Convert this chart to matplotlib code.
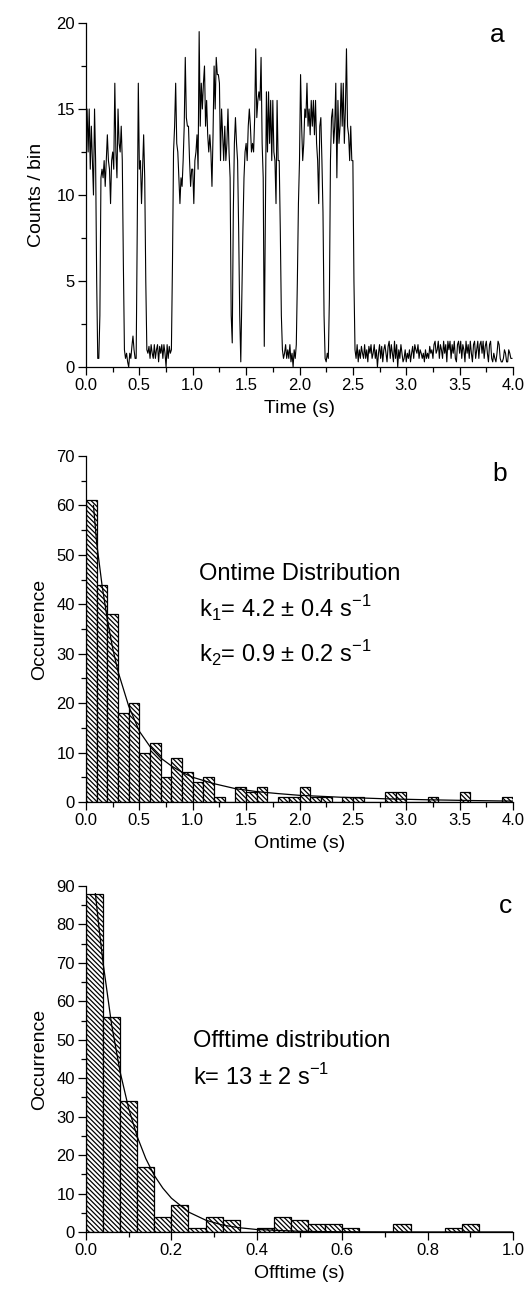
import numpy as np
import matplotlib
matplotlib.use('Agg')
import matplotlib.pyplot as plt
from matplotlib.ticker import MultipleLocator

plt.rcParams['font.family'] = ['Liberation Sans', 'DejaVu Sans']
plt.rcParams['mathtext.fontset'] = 'custom'
plt.rcParams['mathtext.rm'] = 'Liberation Sans'
plt.rcParams['hatch.linewidth'] = 0.9

## panel a: fluorescence trace, 10 ms bins
bin_width = 0.01
counts = [
    14.5, 15, 12.5, 15, 11.5, 14, 12, 10, 15, 12,
    5, 0.5, 0.5, 3, 11, 11.5, 11, 12, 10.5, 12,
    13.5, 12, 11.5, 9.5, 12, 12.5, 11.5, 16.5, 12.5, 11,
    15, 13, 12.5, 14, 12, 6, 1, 0.5, 0.8, 0.3,
    0, 0.8, 0.5, 1.2, 1.8, 1, 0.5, 0.5, 8, 16.5,
    11.5, 12, 9.5, 11.5, 13.5, 11, 5, 1, 0.8, 1.2,
    0.5, 1.3, 0.8, 0.5, 1.3, 0.5, 1, 1.3, 0.3, 1.2,
    0.8, 1.3, 0.5, 1.3, 0.8, 0, 1.3, 0.5, 1.2, 0.8,
    1, 6, 12.5, 14, 16.5, 13, 12.5, 11, 9.5, 11,
    10.5, 12, 14, 18, 14.5, 14, 14, 12, 10.5, 11.5,
    11.5, 9.5, 12, 12.5, 13.5, 11.5, 19.5, 14, 16.5, 15,
    16.5, 17.5, 14, 15.5, 13.5, 12.5, 13.5, 12.5, 10.5, 13.5,
    17.5, 15, 18, 17, 17, 16.5, 12, 15, 13.5, 12,
    14, 12, 13, 15, 12.5, 11, 3, 1.4, 9, 13,
    14.5, 13, 12, 8, 3, 0.3, 4, 8, 11, 12.5,
    13, 12, 14, 15, 14, 12.5, 13, 12.5, 14.5, 18.5,
    14.5, 15.5, 16, 15.5, 18, 13, 11, 1.2, 9, 16,
    12.5, 16, 13, 15.5, 12, 15.5, 12.5, 12, 9.5, 15.5,
    12, 12, 8, 3, 1, 0.5, 0.8, 1.3, 0.5, 1,
    0.5, 1.3, 0.3, 0.8, 0, 1, 0.5, 1.3, 5, 9.5,
    12, 17, 14, 12, 13, 15, 14.5, 16.5, 14, 15,
    13.5, 15.5, 14, 15.5, 13.5, 15.5, 13, 12, 9.5, 14,
    14.5, 12, 9, 3, 0.5, 0.3, 0.8, 0.5, 4, 12,
    14.5, 15, 13, 14, 16.5, 11, 15.5, 13, 14, 16.5,
    14, 16.5, 13, 15, 18.5, 14, 13.5, 12, 14, 12,
    12, 5, 1, 0.5, 1.3, 0.3, 1, 0.5, 1.2, 0.8,
    0.5, 1.3, 0.5, 1, 0.3, 1.2, 0.8, 1.3, 0.5, 0.8,
    1.3, 0.5, 1, 0, 0.8, 1.3, 0.5, 1.2, 0.3, 1,
    1.3, 0.8, 0.3, 1.2, 1.5, 0.5, 1.3, 0.8, 0.3, 1.5,
    0.5, 1.3, 0, 1, 0.5, 1.3, 0.8, 0.3, 0.5, 1,
    0.3, 0.8, 0.5, 1, 0.3, 0.8, 1.2, 0.5, 1.3, 1,
    0.8, 1.3, 0.5, 1, 0.8, 0.5, 0.8, 0.3, 1, 0.5,
    0.8, 0.5, 1.2, 0.8, 1, 0.5, 1.3, 1.5, 0.8, 1,
    1.5, 0.5, 1.3, 1, 0.5, 1.5, 0.8, 1.3, 0.3, 1.5,
    1, 1.5, 0.5, 1.3, 0.8, 1.5, 0.5, 0.3, 1.3, 1.5,
    0.8, 1.5, 0.5, 1.3, 1, 0.3, 1.5, 0.8, 1.3, 0.5,
    1.5, 0.8, 0.3, 1.3, 1.5, 0.5, 1, 1.5, 0.5, 1.3,
    1.5, 0.8, 1.5, 0.5, 1.2, 1.5, 0.8, 0.3, 1.3, 1.5,
    0.5, 0.3, 0.8, 0.5, 0.3, 0.8, 1.5, 1.3, 0.5, 0.3,
    0.3, 0.5, 1, 0.8, 0.3, 0.3, 1, 0.8, 0.5, 0.5,
]
times = np.arange(len(counts)) * bin_width

## panel b: ontime histogram (0.1 s bins) and biexponential fit
on_width = 0.1
on_counts = [61, 44, 38, 18, 20, 10, 12, 5, 9, 6,
             4, 5, 1, 0, 3, 2, 3, 0, 1, 1,
             3, 1, 1, 0, 1, 1, 0, 0, 2, 2,
             0, 0, 1, 0, 0, 2, 0, 0, 0, 1]
on_fit_t = [0.07, 0.1, 0.15, 0.2, 0.25, 0.3, 0.4, 0.5, 0.6, 0.7, 0.8, 0.9,
            1.0, 1.2, 1.4, 1.6, 1.8, 2.0, 2.4, 2.8, 3.2, 3.6, 4.0]
on_fit_y = [60.0, 52.4, 43.9, 36.9, 31.1, 26.4, 19.4, 14.3, 11.2, 8.9, 7.3, 6.0,
            5.0, 3.7, 2.7, 2.1, 1.7, 1.35, 0.95, 0.65, 0.45, 0.3, 0.18]

## panel c: offtime histogram (0.04 s bins) and single exponential fit
off_width = 0.04
off_counts = [88, 56, 34, 17, 4, 7, 1, 4, 3, 0,
              1, 4, 3, 2, 2, 1, 0, 0, 2, 0,
              0, 1, 2, 0, 0]
off_fit_t = [0.022, 0.03, 0.04, 0.06, 0.08, 0.1, 0.12, 0.14, 0.16, 0.18, 0.2,
             0.24, 0.28, 0.32, 0.36, 0.4, 0.5, 0.6, 0.8, 1.0]
off_fit_y = [88.0, 79.6, 70.0, 53.9, 41.6, 32.1, 24.8, 19.1, 14.7, 11.4, 8.8,
             5.2, 3.1, 1.8, 1.1, 0.65, 0.18, 0.05, 0.0, 0.0]

W, H = 525, 1294
fig = plt.figure(figsize=(W / 100, H / 100), dpi=100)

def make_axes(top, bottom):
    ax = fig.add_axes([86 / W, 1 - bottom / H, 427 / W, (bottom - top) / H])
    for s in ('top', 'right'):
        ax.spines[s].set_visible(False)
    for s in ('left', 'bottom'):
        ax.spines[s].set_linewidth(0.9)
    ax.tick_params(which='major', direction='out', length=6, width=0.9,
                   labelsize=12, pad=2)
    ax.tick_params(which='minor', direction='out', length=3.5, width=0.9)
    return ax

def hist_bars(ax, vals, width):
    edges = np.arange(len(vals)) * width
    ax.bar(edges, vals, width=width, align='edge', color='white',
           edgecolor='black', linewidth=0.9, hatch='\\' * 7)

# text placed in figure pixels measured from the top
def ftext(x, y, s, size=17, **kw):
    fig.text(x / W, 1 - y / H, s, fontsize=size, va='baseline', **kw)

# a
ax1 = make_axes(23, 367)
ax1.plot(times, counts, color='black', lw=0.8)
ax1.set_xlim(0, 4.0)
ax1.set_ylim(0, 20)
ax1.xaxis.set_major_locator(MultipleLocator(0.5))
ax1.xaxis.set_minor_locator(MultipleLocator(0.25))
ax1.yaxis.set_major_locator(MultipleLocator(5))
ax1.yaxis.set_minor_locator(MultipleLocator(2.5))
ax1.xaxis.set_major_formatter(lambda v, p: '%.1f' % v)
ax1.set_xlabel('Time (s)', fontsize=14, labelpad=5)
ax1.set_ylabel('Counts / bin', fontsize=14, labelpad=8)
ftext(497, 42, 'a', size=19, ha='center')

# b
ax2 = make_axes(456, 802)
hist_bars(ax2, on_counts, on_width)
ax2.plot(on_fit_t, on_fit_y, color='black', lw=0.9)
ax2.set_xlim(0, 4.0)
ax2.set_ylim(0, 70)
ax2.xaxis.set_major_locator(MultipleLocator(0.5))
ax2.xaxis.set_minor_locator(MultipleLocator(0.25))
ax2.yaxis.set_major_locator(MultipleLocator(10))
ax2.yaxis.set_minor_locator(MultipleLocator(5))
ax2.xaxis.set_major_formatter(lambda v, p: '%.1f' % v)
ax2.set_xlabel('Ontime (s)', fontsize=14, labelpad=5)
ax2.set_ylabel('Occurrence', fontsize=14, labelpad=6)
ftext(500, 481, 'b', size=19, ha='center')

# c
ax3 = make_axes(886, 1232)
hist_bars(ax3, off_counts, off_width)
ax3.plot(off_fit_t, off_fit_y, color='black', lw=0.9)
ax3.set_xlim(0, 1.0)
ax3.set_ylim(0, 90)
ax3.xaxis.set_major_locator(MultipleLocator(0.2))
ax3.xaxis.set_minor_locator(MultipleLocator(0.1))
ax3.yaxis.set_major_locator(MultipleLocator(10))
ax3.yaxis.set_minor_locator(MultipleLocator(5))
ax3.xaxis.set_major_formatter(lambda v, p: '%.1f' % v)
ax3.set_xlabel('Offtime (s)', fontsize=14, labelpad=5)
ax3.set_ylabel('Occurrence', fontsize=14, labelpad=6)
ftext(505, 913, 'c', size=19, ha='center')

ftext(199, 580, 'Ontime Distribution')
ftext(199, 618, r'k$_\mathregular{1}$= 4.2 ± 0.4 s$^\mathregular{-1}$')
ftext(199, 663, r'k$_\mathregular{2}$= 0.9 ± 0.2 s$^\mathregular{-1}$')
ftext(193, 1047, 'Offtime distribution')
ftext(193, 1085, r'k= 13 ± 2 s$^\mathregular{-1}$')

fig.savefig('out.png', dpi=100)
